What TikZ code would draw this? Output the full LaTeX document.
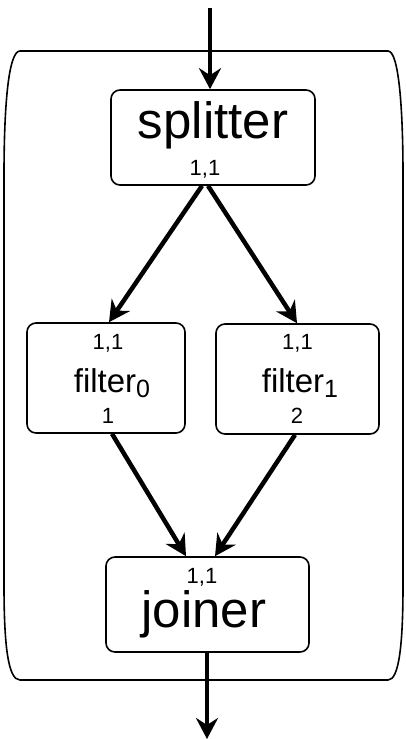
\documentclass[tikz,border=0pt]{standalone}
\usepackage{fontspec}
\setmainfont{Liberation Sans}
\usetikzlibrary{arrows.meta,positioning,calc}

\newcommand{\lowidx}[1]{\raisebox{-5pt}{\fontsize{25}{25}\selectfont #1}}

\begin{document}
\begin{tikzpicture}[
    x=1pt, y=-1pt,
    >={Stealth[length=21pt, width=22pt, inset=7pt]},
    actor box/.style={draw, line width=1.6pt, rounded corners=9pt, inner sep=0pt},
    big name/.style={anchor=base, inner sep=0pt, font=\fontsize{51}{55}\selectfont},
    mid name/.style={anchor=base, inner sep=0pt, font=\fontsize{33}{36}\selectfont},
    rate/.style={anchor=base, inner sep=0pt, font=\fontsize{22}{24}\selectfont},
    flow/.style={->, line width=4.5pt},
]
\useasboundingbox (0,0) rectangle (406,739);

% === Enclosing split-join (barrel outline) ===
\draw[line width=1.6pt] (20,51) -- (388,51)
    .. controls (399,51) and (403,110) .. (403,175) -- (403,585)
    .. controls (403,645) and (399,680) .. (388,680) -- (20,680)
    .. controls (8,680) and (4,645) .. (4,585) -- (4,175)
    .. controls (4,110) and (8,51) .. (20,51) -- cycle;

% === Boxes ===
\node[actor box, minimum width=204pt, minimum height=95pt] (splitter) at (213,137.5) {};
\node[actor box, minimum width=158pt, minimum height=110pt] (filter0) at (106,378) {};
\node[actor box, minimum width=163pt, minimum height=110pt] (filter1) at (297.5,379) {};
\node[actor box, minimum width=203pt, minimum height=95pt] (joiner) at (207.5,604.5) {};

% Labels and rates
\node[big name] (splitter-name) at (213,138) {splitter};
\node[rate] (splitter-push) at (205,175) {1,1};

\node[rate] (filter0-pop) at (108,349) {1,1};
\node[mid name] (filter0-name) at (112,392) {filter\lowidx{0}};
\node[rate] (filter0-push) at (108,423) {1};

\node[rate] (filter1-pop) at (297.5,349) {1,1};
\node[mid name] (filter1-name) at (300,392) {filter\lowidx{1}};
\node[rate] (filter1-push) at (297,423) {2};

\node[rate] (joiner-pop) at (202,583) {1,1};
\node[big name] (joiner-name) at (204,627) {joiner};

% === Stream edges ===
\coordinate (src) at (210,8);
\coordinate (sink) at (207,739);

\draw[flow] (src) -- ([xshift=-3pt]splitter.north);
\draw[flow] ([xshift=-11pt]splitter.south) -- ([xshift=3pt]filter0.north);
\draw[flow] ([xshift=-5pt]splitter.south) -- ([xshift=-0.5pt]filter1.north);
\draw[flow] ([xshift=6pt]filter0.south) -- ([xshift=-21.5pt]joiner.north);
\draw[flow] ([xshift=-2.5pt]filter1.south) -- ([xshift=7.5pt]joiner.north);
\draw[flow] ([xshift=-0.5pt]joiner.south) -- (sink);

\end{tikzpicture}
\end{document}
